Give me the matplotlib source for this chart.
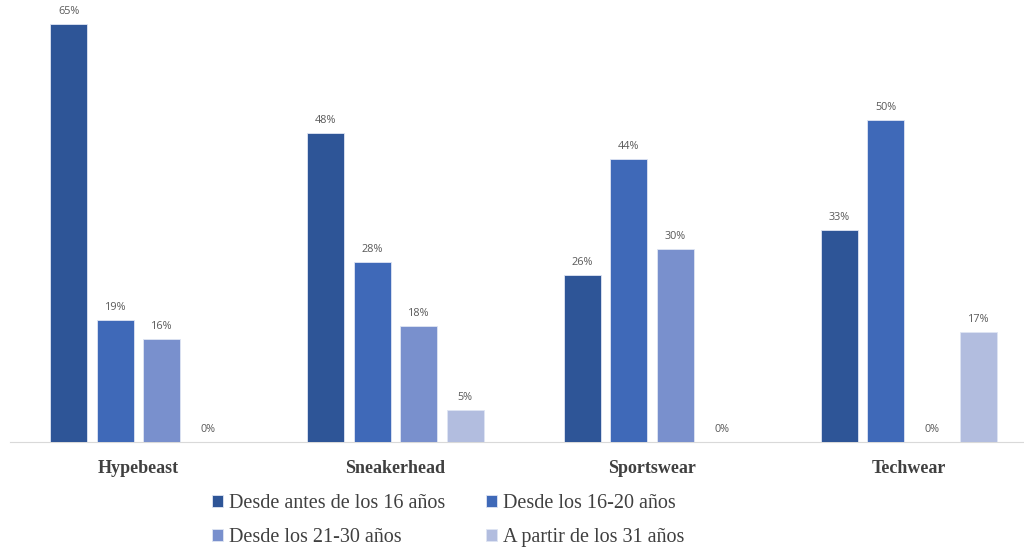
import numpy as np
import matplotlib.pyplot as plt

categories = ["Hypebeast", "Sneakerhead", "Sportswear", "Techwear"]
series_names = [
    "Desde antes de los 16 años",
    "Desde los 16-20 años",
    "Desde los 21-30 años",
    "A partir de los 31 años",
]
antes_16 = [65, 48, 26, 33]
de_16_20 = [19, 28, 44, 50]
de_21_30 = [16, 18, 30, 0]
desde_31 = [0, 5, 0, 17]
colors = ["#2E5597", "#3F69B8", "#7990CD", "#B2BDDF"]

W, H = 1024, 554
fig = plt.figure(figsize=(W / 100, H / 100), dpi=100)
# axes spans the full width, bottom at the baseline
ax = fig.add_axes([0, 1 - 441.7 / H, 1, 441.7 / H])

x = np.arange(len(categories))
bar_w = 0.144
step = 0.181
all_series = [antes_16, de_16_20, de_21_30, desde_31]

bars_list = []
for i, vals in enumerate(all_series):
    pos = x + (i - 1.5) * step
    bars = ax.bar(pos, vals, width=bar_w, color=colors[i], label=series_names[i],
                  edgecolor="#dfe5f3", linewidth=0.6, zorder=3)
    bars_list.append(bars)
    for p, v in zip(pos, vals):
        ax.annotate(f"{v}%", (p, v), xytext=(0, 5), textcoords="offset points",
                    ha="center", va="bottom", fontsize=7.8, color="#595959",
                    family="Open Sans")

ax.set_xlim(-138.5 / 256.8, (W - 138.5) / 256.8)
ax.set_ylim(0, 441.7 / 6.43)
ax.set_yticks([])
ax.set_xticks(x)
ax.set_xticklabels(categories, family="Liberation Serif", fontweight="bold",
                   fontsize=13, color="#404040")
ax.tick_params(axis="x", length=0, pad=13)
for s in ["top", "right", "left"]:
    ax.spines[s].set_visible(False)
ax.spines["bottom"].set_color("#d9d9d9")
ax.spines["bottom"].set_bounds(-128.5 / 256.8, (W - 138.5) / 256.8)

# row-wise legend order
order = [0, 2, 1, 3]
fig.legend([bars_list[k] for k in order], [series_names[k] for k in order],
           loc="upper left", bbox_to_anchor=(194 / W, 1 - 476 / H), ncol=2,
           frameon=False, prop={"family": "Liberation Serif", "size": 14.5},
           handlelength=0.55, handleheight=0.55, handletextpad=0.3,
           columnspacing=2.0, labelspacing=0.75, labelcolor="#404040")

fig.savefig("out.png", dpi=100)
